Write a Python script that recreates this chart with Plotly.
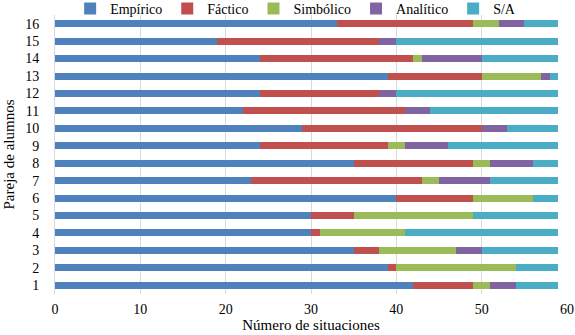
import plotly.graph_objects as go

pairs = list(range(1, 17))
empirico  = [42, 39, 35, 30, 30, 40, 23, 35, 24, 29, 22, 24, 39, 24, 19, 33]
factico   = [7, 1, 3, 1, 5, 9, 20, 14, 15, 21, 19, 14, 11, 18, 19, 16]
simbolico = [2, 14, 9, 10, 14, 7, 2, 2, 2, 0, 0, 0, 7, 1, 0, 3]
analitico = [3, 0, 3, 0, 0, 0, 6, 5, 5, 3, 3, 2, 1, 7, 2, 3]
sin_a     = [5, 5, 9, 18, 10, 3, 8, 3, 13, 6, 15, 19, 1, 9, 19, 4]

series = [
    ("Empírico", empirico, "#4F81BD"),
    ("Fáctico", factico, "#C0504D"),
    ("Simbólico", simbolico, "#9BBB59"),
    ("Analítico", analitico, "#8064A2"),
    ("S/A", sin_a, "#4BACC6"),
]

fig = go.Figure()
for name, vals, col in series:
    fig.add_trace(go.Bar(
        y=pairs, x=vals, name=name, orientation="h",
        marker=dict(color=col, line=dict(width=0)),
    ))

font_family = "Liberation Serif, Times New Roman, serif"
fig.update_layout(
    barmode="stack",
    bargap=0.6,
    width=575, height=335,
    margin=dict(l=55, r=8, t=15, b=41, pad=0, autoexpand=False),
    plot_bgcolor="white", paper_bgcolor="white",
    font=dict(family=font_family, size=14, color="#000"),
    legend=dict(orientation="h", x=0.47, xanchor="center",
                y=1.022, yanchor="middle",
                font=dict(size=14), itemwidth=30, traceorder="normal",
                tracegroupgap=0, bgcolor="rgba(0,0,0,0)",
                borderwidth=0),
    xaxis=dict(range=[0, 60], dtick=10, showgrid=True, gridcolor="#D9D9D9",
               zeroline=False, showline=False, ticks="",
               ticklabelstandoff=5, automargin=False,
               tickfont=dict(size=14),
               title=dict(text="Número de situaciones", standoff=0, font=dict(size=15))),
    yaxis=dict(range=[0.5, 16.5], dtick=1, showgrid=False, zeroline=False,
               showline=True, linecolor="#D9D9D9", ticks="",
               ticklabelstandoff=12, automargin=False,
               tickfont=dict(size=14),
               title=dict(text="Pareja de alumnos", standoff=6, font=dict(size=15))),
)

fig.write_html("out.html", config={"displayModeBar": False},
               post_script="document.body.style.margin='0';document.body.style.overflow='hidden';")
